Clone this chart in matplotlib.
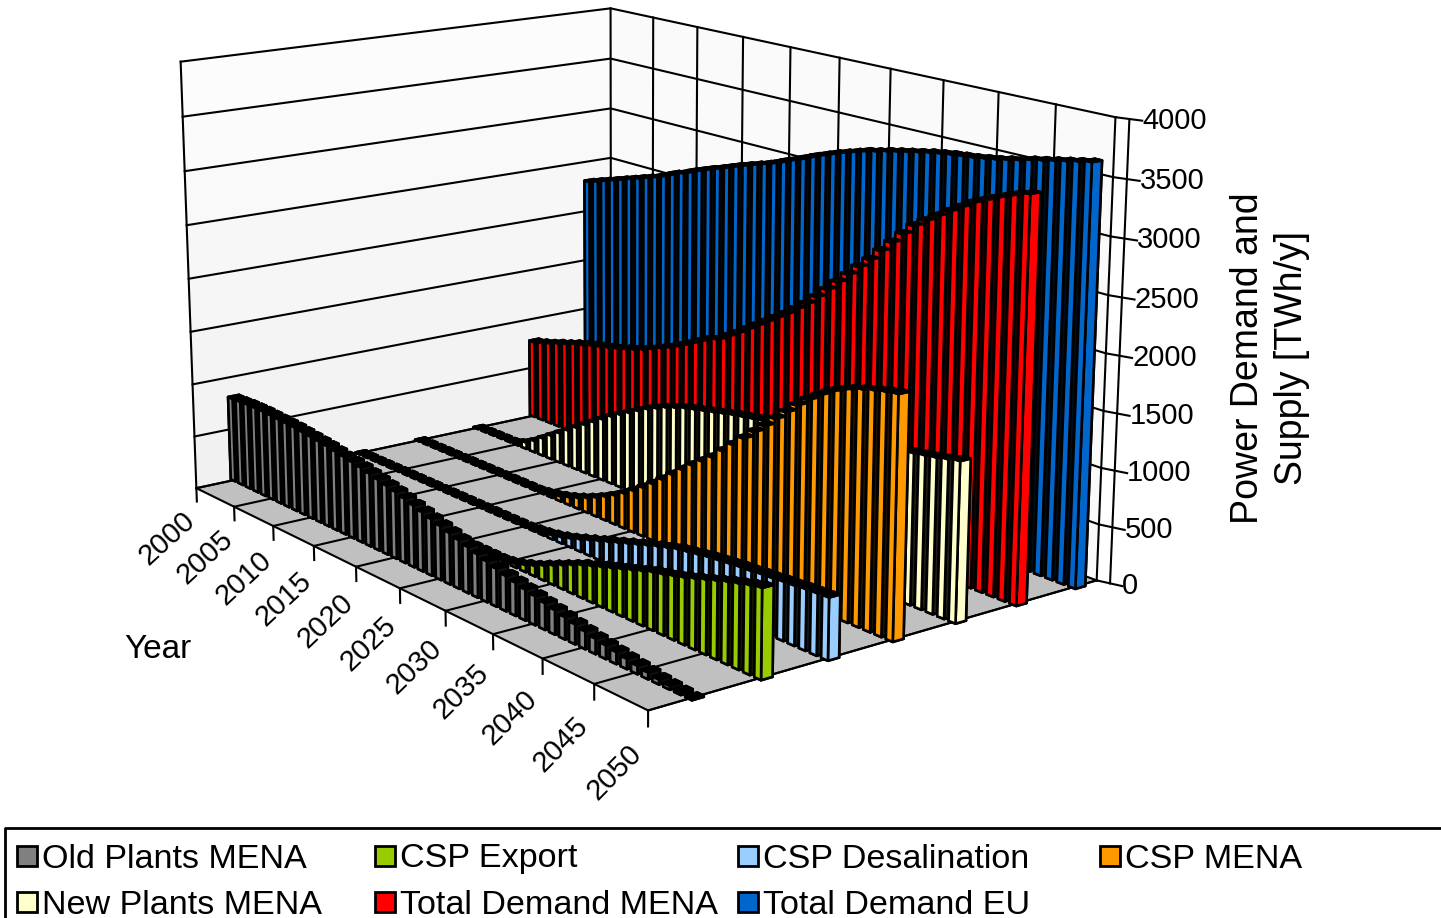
import numpy as np
import matplotlib
matplotlib.use('Agg')
import matplotlib.pyplot as plt
from matplotlib.colors import to_rgb
from matplotlib.patches import Rectangle
from matplotlib.lines import Line2D
from mpl_toolkits.mplot3d.art3d import Poly3DCollection

plt.rcParams['font.family'] = ['Liberation Sans', 'DejaVu Sans']

years = list(range(2000, 2051))
old_plants = [800,805,810,810,810,805,800,795,790,780,
              770,760,750,735,720,705,690,670,650,630,
              610,585,560,535,510,485,460,435,410,385,
              360,335,310,290,270,250,230,210,190,170,
              150,130,115,100,85,70,55,40,30,20,10]
csp_export = [0,0,0,0,0,0,0,0,0,0,
              0,0,0,0,0,0,0,0,0,0,
              0,0,0,0,0,10,30,60,90,130,
              170,210,250,290,320,350,380,410,440,470,
              500,520,545,570,600,630,660,690,715,740,760]
csp_desal = [0,0,0,0,0,0,0,0,0,0,
             0,0,0,0,0,0,0,0,0,0,
             0,10,20,35,55,80,110,140,170,200,
             230,260,290,320,350,375,400,415,430,445,
             455,465,475,480,490,495,505,510,520,525,530]
csp_mena = [0,0,0,0,0,0,0,0,0,0,
            0,0,0,0,0,10,25,45,70,100,
            135,175,220,270,325,385,450,520,595,675,
            755,830,900,970,1060,1150,1240,1330,1415,1510,
            1600,1690,1770,1840,1900,1945,1985,2015,2040,2060,2075]
new_plants = [0,0,0,0,0,20,60,110,170,230,
              290,350,410,470,530,590,650,700,750,800,
              850,890,930,960,990,1010,1030,1050,1070,1090,
              1105,1120,1135,1150,1165,1180,1195,1210,1225,1240,
              1255,1265,1275,1285,1295,1305,1320,1335,1350,1370,1390]
demand_mena = [770,790,815,845,870,900,920,945,965,985,
               1005,1030,1055,1085,1120,1160,1200,1245,1295,1345,
               1395,1425,1485,1545,1610,1675,1740,1805,1870,1945,
               2020,2110,2205,2300,2395,2490,2580,2685,2785,2885,
               2980,3050,3115,3180,3240,3300,3345,3390,3430,3470,3500]
demand_eu = [2300,2330,2360,2390,2420,2450,2480,2510,2540,2580,
             2620,2650,2690,2725,2760,2790,2825,2860,2890,2920,
             2950,2985,3025,3060,3100,3140,3175,3210,3240,3270,
             3300,3320,3345,3365,3385,3405,3425,3440,3455,3465,
             3475,3490,3505,3525,3545,3570,3590,3610,3630,3650,3670]
series_names = ['Old Plants MENA','CSP Export','CSP Desalination','CSP MENA',
                'New Plants MENA','Total Demand MENA','Total Demand EU']
series_values = [old_plants,csp_export,csp_desal,csp_mena,new_plants,demand_mena,demand_eu]
series_colors = ['#808080','#99CC00','#99CCFF','#FF9900','#FFFFCC','#FF0000','#0066CC']
z_ticks = [0,500,1000,1500,2000,2500,3000,3500,4000]
year_ticks = list(range(2000,2051,5))

W,H = 1441,918
SIDE = 1600
fig = plt.figure(figsize=(W/100,H/100),dpi=100)
XL = (2000,2050); YL=(0,7); ZL=(0,4000)
cx,cy = W/2-115.2,H/2-123.0
ax = fig.add_axes([(cx-SIDE/2)/W,(H-cy-SIDE/2)/H,SIDE/W,SIDE/H],projection='3d',computed_zorder=False)
ax.set_xlim(*XL,view_margin=0); ax.set_ylim(*YL,view_margin=0); ax.set_zlim(*ZL,view_margin=0)
ax.view_init(elev=14.8969,azim=-37.3272)
ax.set_proj_type('persp',focal_length=float(np.exp(-1.0087)))
ax.set_box_aspect((1,np.exp(-0.3518),np.exp(-0.5362)),zoom=float(np.exp(-0.4373)))
ax.set_axis_off()
ax.patch.set_alpha(0)

def quad(xs,ys,zs,color,zo):
    ax.add_collection3d(Poly3DCollection([list(zip(xs,ys,zs))],facecolors=color,edgecolors='none',zorder=zo))
for a,b in zip(z_ticks[:-1],z_ticks[1:]):
    shade = 0.945+0.05*(a/4000)
    quad([XL[0]]*4,[0,7,7,0],[a,a,b,b],(shade,shade,shade),1)
    quad([XL[0],XL[1],XL[1],XL[0]],[7,7,7,7],[a,a,b,b],(0.98,0.98,0.98),1)
quad([XL[0],XL[1],XL[1],XL[0]],[0,0,7,7],[0,0,0,0],'#C0C0C0',1)
lk=dict(color='k',lw=1.5,zorder=2)
for z in z_ticks:
    ax.plot([XL[0],XL[0],XL[1]],[0,7,7],[z,z,z],**lk)
ax.plot([XL[0]]*2,[0,0],[0,4000],**lk)
for yr in year_ticks:
    ax.plot([yr,yr],[7,7],[0,4000],**lk)
    ax.plot([yr,yr],[0,7],[0,0],**lk)
    ax.plot([yr,yr],[0,0],[0,-130],**lk)
    ax.text(yr,-0.47,-420,str(yr),zdir=(0,1,420),ha='center',va='center',fontsize=21,zorder=30)
ax.plot([XL[0],XL[1],XL[1]],[0,0,7],[0,0,0],**lk)
ax.plot([XL[1]+0.9]*2,[7.05,7.05],[0,4000],**lk)
for z in z_ticks:
    ax.plot([XL[1],XL[1]+1.7],[7,7.1],[z,z],**lk)
    ax.text(XL[1]+1.7,7.1,z,str(z),ha='left',va='center',fontsize=21,zorder=30)

for i in range(6,-1,-1):
    vals = np.array(series_values[i],float)
    rgb = np.array(to_rgb(series_colors[i]))
    dark = tuple(rgb*0.12)
    faces = []
    for k in range(51):
        side = tuple(rgb) if k==50 else dark
        faces += [(0,0,0),(0,0,0),tuple(rgb),dark,dark,side]
    ax.bar3d(np.array(years)-0.3,np.full(51,i+0.57),np.zeros(51),0.6,0.17,vals,
             color=faces,edgecolor='k',linewidth=1.9,shade=False,zorder=10+(6-i))

fig.text(158/W,1-649/H,'Year',fontsize=24,ha='center',va='center')
fig.text(1270/W,1-358/H,'Power Demand and\nSupply [TWh/y]',rotation=90,fontsize=27,ha='center',va='center',multialignment='center',linespacing=1.25)

fig.add_artist(Line2D([5/W,5/W,1],[0,1-828/H,1-828/H],color='k',lw=2,transform=fig.transFigure))
colx=[17,375,738,1100]; rowy=[856,902]
for n,i in enumerate(range(7)):
    kx=colx[n%4]; ky=rowy[n//4]
    fig.add_artist(Rectangle((kx/W,1-(ky+10)/H),20/W,20/H,facecolor=series_colors[i],edgecolor='k',lw=2,transform=fig.transFigure))
    fig.text((kx+25)/W,1-(ky+3)/H,series_names[i],fontsize=24.6,ha='left',va='center')
fig.savefig('out.png',dpi=100)
